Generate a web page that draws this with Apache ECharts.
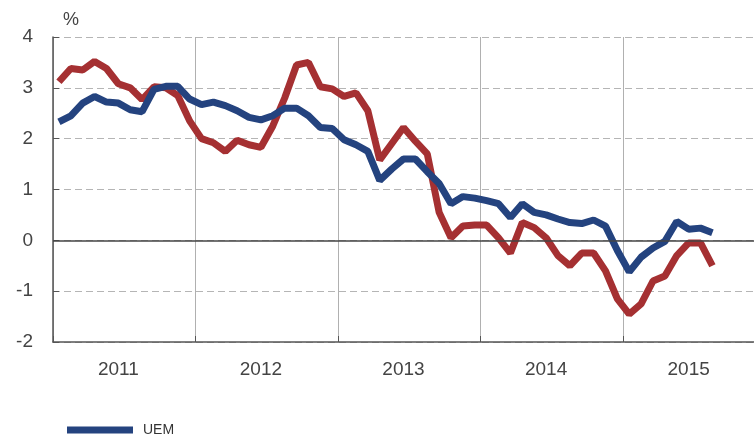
<!DOCTYPE html>
<html>
<head>
<meta charset="utf-8">
<script src="https://cdn.jsdelivr.net/npm/echarts@6/dist/echarts.min.js"></script>
<style>
  html, body { margin: 0; padding: 0; background: #fff; }
  #chart { width: 754px; height: 438px; }
</style>
</head>
<body>
<div id="chart"></div>
<script>
// meses ene-2011 .. nov-2015 (eje), datos hasta ago-2015
var years = ["2011", "2012", "2013", "2014", "2015"];
var months = [];
years.forEach(function (y) {
  for (var m = 1; m <= 12; m++) {
    if (y === "2015" && m > 11) break;
    months.push(y + "-" + (m < 10 ? "0" + m : m));
  }
});

var uem = [
  2.33, 2.45, 2.70, 2.83, 2.72, 2.70, 2.57, 2.53, 2.97, 3.03, 3.03, 2.78,
  2.67, 2.72, 2.65, 2.55, 2.42, 2.37, 2.45, 2.60, 2.60, 2.45, 2.22, 2.20,
  1.98, 1.88, 1.75, 1.18, 1.40, 1.60, 1.60, 1.35, 1.12, 0.72, 0.86, 0.83,
  0.78, 0.72, 0.45, 0.72, 0.55, 0.50, 0.42, 0.35, 0.33, 0.40, 0.28, -0.20,
  -0.62, -0.33, -0.15, -0.02, 0.37, 0.22, 0.24, 0.15
];
var espana = [
  3.12, 3.38, 3.35, 3.52, 3.38, 3.08, 3.00, 2.77, 3.02, 3.00, 2.85, 2.35,
  2.00, 1.92, 1.75, 1.97, 1.88, 1.83, 2.25, 2.80, 3.45, 3.50, 3.02, 2.98,
  2.83, 2.90, 2.55, 1.58, 1.90, 2.22, 1.95, 1.70, 0.55, 0.05, 0.28, 0.30,
  0.30, 0.05, -0.25, 0.35, 0.25, 0.05, -0.30, -0.50, -0.25, -0.25, -0.60, -1.15,
  -1.45, -1.25, -0.80, -0.70, -0.30, -0.05, -0.05, -0.50
];

var myChart = echarts.init(document.getElementById("chart"));
var font = "Liberation Sans, Arial, sans-serif";
var option = {
  animation: false,
  textStyle: { fontFamily: font },
  grid: { left: 53, right: 0, top: 37, bottom: 96, containLabel: false },
  legend: {
    data: ["UEM"],
    left: 62,
    top: 418,
    icon: "rect",
    itemWidth: 66,
    itemHeight: 7,
    textStyle: { fontSize: 14, color: "#333", padding: [0, 0, 0, 5] },
  },
  xAxis: {
    type: "category",
    data: months,
    boundaryGap: true,
    axisLine: { onZero: false, lineStyle: { color: "#555", width: 1.5 } },
    axisTick: {
      show: true,
      inside: true,
      length: 6,
      interval: function (i) { return i % 12 === 0; },
      lineStyle: { color: "#555" },
    },
    axisLabel: {
      interval: function (i) { return i % 12 === 5; },
      formatter: function (v) { return v.slice(0, 4); },
      color: "#444",
      fontSize: 19,
      margin: 18,
    },
    splitLine: {
      show: true,
      interval: function (i) { return i % 12 === 0; },
      lineStyle: { color: "#b0b0b0", width: 1 },
    },
  },
  yAxis: {
    type: "value",
    min: -2,
    max: 4,
    interval: 1,
    name: "%",
    nameLocation: "end",
    nameGap: 8,
    nameTextStyle: { fontSize: 18, color: "#444", align: "left", padding: [0, 0, 0, 10] },
    axisLine: { show: true, lineStyle: { color: "#555", width: 1.5 } },
    axisTick: { show: true, inside: true, length: 6, lineStyle: { color: "#555" } },
    axisLabel: { color: "#444", fontSize: 19, margin: 20 },
    splitLine: {
      show: true,
      lineStyle: { color: "#b5b5b5", type: [7, 4], width: 1 },
    },
  },
  series: [
    {
      name: "España",
      type: "line",
      data: espana,
      symbol: "none",
      lineStyle: { color: "#a53032", width: 7 },
      itemStyle: { color: "#a53032" },
      z: 2,
    },
    {
      name: "UEM",
      type: "line",
      data: uem,
      symbol: "none",
      lineStyle: { color: "#24437f", width: 7 },
      itemStyle: { color: "#24437f" },
      z: 3,
      markLine: {
        silent: true,
        symbol: "none",
        label: { show: false },
        lineStyle: { color: "#444", type: "solid", width: 1.5 },
        data: [{ yAxis: 0 }],
      },
    },
  ],
};
myChart.setOption(option);
window.addEventListener("resize", function () {
  myChart.resize();
});
</script>
</body>
</html>
